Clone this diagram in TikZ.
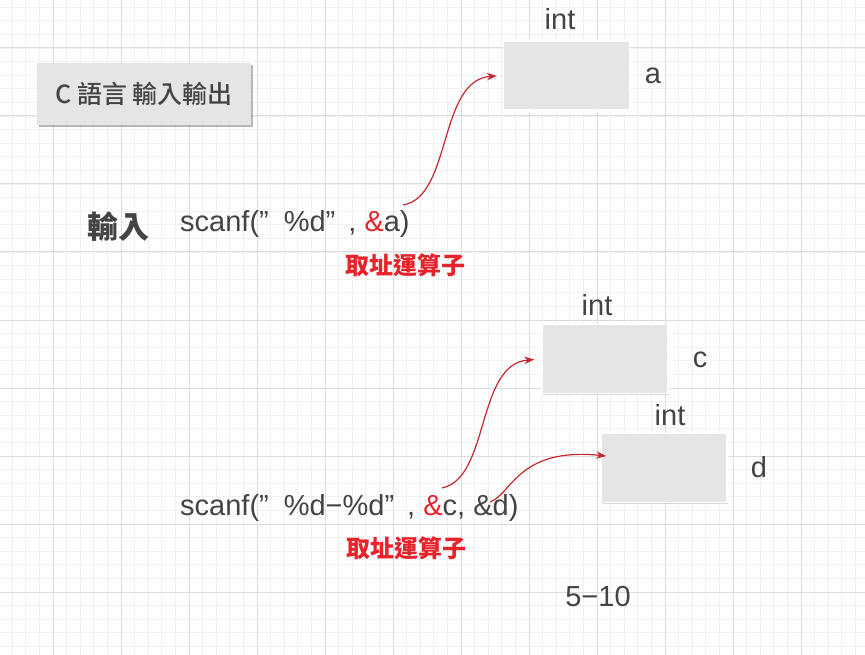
\documentclass[tikz,border=0pt]{standalone}
\usepackage{fontspec}
\setmainfont{Liberation Sans}
\newfontfamily\cjk{Noto Sans CJK TC}
\newfontfamily\cjkm{Noto Sans CJK TC Medium}
\usetikzlibrary{arrows.meta,shadows,calc}
\definecolor{txt}{HTML}{444444}
\definecolor{myred}{HTML}{E8232B}
\definecolor{arr}{HTML}{C42830}
\definecolor{boxfill}{HTML}{E5E5E5}
\definecolor{gminor}{HTML}{F1F1F1}
\definecolor{gmajor}{HTML}{DDDDDD}
\newcommand\fq[1]{”\hspace{#1pt}}
\tikzset{
  minorline/.style={draw=gminor,line width=0.7pt},
  majorline/.style={draw=gmajor,line width=1pt},
  varbox/.style={fill=boxfill,draw=white,line width=1.5pt,minimum width=126pt,minimum height=69pt,inner sep=0pt,
    drop shadow={shadow xshift=0.8pt,shadow yshift=-1.2pt,opacity=0.15,fill=black}},
  titlebox/.style={fill=boxfill,draw=none,minimum width=214pt,minimum height=62pt,inner sep=0pt,
    drop shadow={shadow xshift=1.8pt,shadow yshift=-1.8pt,opacity=0.28,fill=black}},
  lbl/.style={text=txt,inner sep=0pt,font=\fontsize{29}{33}\selectfont},
  redlbl/.style={text=myred,inner sep=0pt,font=\cjk\bfseries\fontsize{24}{28}\selectfont},
  ptr/.style={draw=arr,line width=1.2pt,-{Stealth[length=10pt,width=7.5pt]}}
}
\begin{document}
\begin{tikzpicture}[x=1pt,y=-1pt]
\useasboundingbox (0,0) rectangle (865,655);
\fill[white] (0,0) rectangle (865,655);
% grid
\foreach \i in {0,...,65} {\pgfmathsetmacro\xx{-15+13.6*\i}\draw[minorline] (\xx,0) -- (\xx,655);}
\foreach \i in {0,...,50} {\pgfmathsetmacro\yy{-20+13.6*\i}\draw[minorline] (0,\yy) -- (865,\yy);}
\foreach \i in {0,...,13} {\pgfmathsetmacro\xx{-15+68*\i}\draw[majorline] (\xx,0) -- (\xx,655);}
\foreach \i in {0,...,10} {\pgfmathsetmacro\yy{-20+68*\i}\draw[majorline] (0,\yy) -- (865,\yy);}

% title
\node[titlebox,text=txt,font=\cjkm\fontsize{25}{29}\selectfont] (title) at (144,94) {C 語言 輸入輸出};

% first block
\node[text=txt,inner sep=0pt,font=\cjk\bfseries\fontsize{31}{35}\selectfont] (inlbl) at (118,227) {輸入};
\node[lbl,anchor=base west] (scan1) at (180,232) {scanf(\fq{15}\%d\fq{13}, {\color{myred}\&}a)};
\node[redlbl] (addr1) at (405,265) {取址運算子};
\node[varbox] (boxa) at (566.5,75.5) {};
\node[lbl] (inta) at (560,19) {int};
\node[lbl] (namea) at (653,76) {a};
\coordinate (sa) at (403,205);
\draw[ptr,shorten >=6pt] (sa) .. controls (452,197) and (438,80) .. (boxa.west);

% second block
\node[varbox] (boxc) at (605,359) {};
\node[lbl] (intc) at (597,305) {int};
\node[lbl] (namec) at (700,360) {c};
\node[varbox] (boxd) at (664,468) {};
\node[lbl] (intd) at (670,415) {int};
\node[lbl] (named) at (759,467) {d};
\node[lbl,anchor=base west] (scan2) at (180,515) {scanf(\fq{15}\%d−\%d\fq{13}, {\color{myred}\&}c, \&d)};
\node[redlbl] (addr2) at (406,548) {取址運算子};
\node[lbl] (page) at (598,597) {5−10};
\coordinate (sc) at (442,488);
\coordinate (sd) at (490,502);
\draw[ptr,shorten >=7pt] (sc) .. controls (490,478) and (476,364) .. (boxc.west);
\draw[ptr] (sd) .. controls (512,494) and (518,447) .. ($(boxd.west)+(6,-12)$);
\end{tikzpicture}
\end{document}
